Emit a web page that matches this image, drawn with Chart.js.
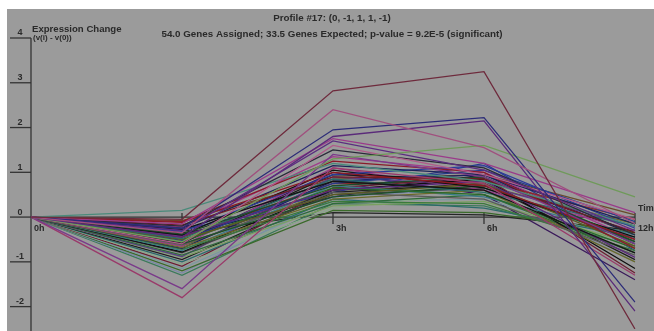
<!DOCTYPE html>
<html>
<head>
<meta charset="utf-8">
<script src="https://cdn.jsdelivr.net/npm/chart.js@4"></script>
<style>
  html, body { margin: 0; padding: 0; background: #ffffff; width: 654px; height: 331px; overflow: hidden; }
  #wrap { position: absolute; left: 7px; top: 9px; width: 647px; height: 322px; }
</style>
</head>
<body>
<div id="wrap"><canvas id="c" width="647" height="322"></canvas></div>
<script>
// Time points of the profile
const timeLabels = ['0h', '1h', '3h', '6h', '12h'];
const yTickValues = [4, 3, 2, 1, 0, -1, -2];

const titleLine1 = 'Profile #17: (0, -1, 1, 1, -1)';
const titleLine2 = '54.0 Genes Assigned; 33.5 Genes Expected; p-value = 9.2E-5 (significant)';

// Expression change of each assigned gene, one array per time point (gene i = index i)
const t0h = [0,0,0,0,0,0,0,0,0,0, 0,0,0,0,0,0,0,0,0,0, 0,0,0,0,0,0,0,0,0,0, 0,0,0,0,0,0,0,0,0,0, 0,0,0,0,0,0,0,0,0,0, 0,0,0,0];
const t1h = [-0.05,-0.35,-0.25,-0.45,-0.55,-0.15,-0.30,-0.60,-0.20,-1.60,
             -1.80, 0.15,-0.10,-0.12,-0.18,-0.25,-0.28,-0.32,-0.38,-0.40,
             -0.42,-0.48,-0.50,-0.52,-0.55,-0.58,-0.60,-0.62,-0.65,-0.68,
             -0.70,-0.72,-0.75,-0.78,-0.80,-0.85,-0.88,-0.90,-0.95,-1.00,
             -1.05,-1.10,-1.15,-1.20,-1.25,-1.30,-0.35,-0.45,-0.22,-0.30,
             -0.08,-0.55,-0.65,-0.40];
const t3h = [2.82, 2.40, 1.95, 1.80, 1.30, 1.75, 1.70, 1.60, 1.50, 1.40,
             1.10, 1.20, 1.25, 1.00, 0.90, 1.15, 0.80, 0.95, 0.70, 1.05,
             0.60, 0.85, 0.50, 0.75, 0.65, 0.95, 0.45, 0.55, 1.10, 0.40,
             0.80, 0.35, 0.70, 0.60, 0.50, 0.30, 0.90, 0.25, 0.55, 0.40,
             0.20, 0.65, 0.35, 0.15, 0.45, 0.30, 0.10, 0.75, 1.35, 0.55,
             0.85, 1.00, 0.60, 0.45];
const t6h = [3.25, 1.55, 2.22, 2.15, 1.60, 1.20, 1.05, 0.95, 1.10, 0.90,
             0.75, 0.80, 1.00, 0.70, 0.85, 0.95, 0.60, 1.15, 0.90, 0.65,
             0.80, 0.55, 0.75, 1.05, 0.50, 0.85, 0.70, 0.40, 0.60, 0.60,
             0.95, 0.30, 0.45, 0.85, 0.65, 0.50, 0.70, 0.35, 0.75, 0.20,
             0.55, 0.90, 0.40, 0.10, 0.65, 0.25, 0.05, 0.80, 1.00, 1.20,
             0.95, 0.50, 0.70, 0.95];
const t12h = [-2.50,-0.15,-1.90,-2.10, 0.45, 0.10,-0.30,-0.05,-0.40,-0.60,
              -1.30,-0.20,-0.70,-0.50,-0.35,-0.15,-0.80,-0.25,-0.55,-0.45,
              -0.90,-0.20,-0.65,-0.10,-0.70,-0.35,-0.55,-0.85,-0.30,-1.00,
              -0.60,-0.75,-0.40,-1.15,-0.50,-0.80,-0.20,-0.60,-0.95,-0.45,
              -0.70,-1.25,-0.55,-0.35,-1.00,-0.65,-0.30,-0.05,-0.50,-0.75,
               0.05,-1.40,-0.15,-0.40];

// Line colours, one per gene
const lineColors = [
  '#6e2a3c','#a0507e','#2c2c78','#5a2a7a','#6f9a5a','#9a3a8a','#5c2c80','#b05a8a','#2a2a3a','#7a3a8a',
  '#9a3a6a','#4a8a7a','#8a1c2a','#8c1a22','#701c24','#1c2458','#151515','#2a3a9a','#1f4a2a','#121212',
  '#5a2a7a','#2a6a6a','#5a5a22','#283c8c','#2a6a2a','#1a1a1a','#1e5028','#5a5a5a','#9a3a8a','#6a6a2a',
  '#1a2060','#3a7a3a','#3a7a8a','#101010','#444444','#2f6a3a','#5a3a8a','#7aa060','#202020','#2a6a6a',
  '#8aa88a','#6a1e30','#7a9aa0','#3a6a2a','#7a8aa8','#3a7a5a','#252525','#8a2a2a','#a03a8a','#2a3a8a',
  '#6a4a2a','#3a1a5a','#6a6a2a','#1a1a4a'
];

const datasets = t1h.map((_, i) => ({
  data: [t0h[i], t1h[i], t3h[i], t6h[i], t12h[i]],
  borderColor: lineColors[i],
  borderWidth: 1.3,
  pointRadius: 0,
  tension: 0,
  fill: false
}));

const INK = '#2a2a2a';
const FONT = '"Liberation Sans", Arial, sans-serif';

const stemPlugin = {
  id: 'stemAxes',
  beforeDraw(chart) {
    const ctx = chart.ctx;
    ctx.save();
    ctx.fillStyle = '#9b9b9b';
    ctx.fillRect(0, 0, chart.width, chart.height);
    ctx.restore();
  },
  beforeDatasetsDraw(chart) {
    const { ctx, scales: { x, y } } = chart;
    const x0 = x.getPixelForValue(0);
    const xEnd = x.getPixelForValue(timeLabels.length - 1);
    const y0 = y.getPixelForValue(0);
    ctx.save();
    ctx.strokeStyle = '#333333';
    ctx.lineWidth = 1.3;
    // vertical axis
    ctx.beginPath();
    ctx.moveTo(x0, y.getPixelForValue(yTickValues[0]));
    ctx.lineTo(x0, chart.height);
    ctx.stroke();
    // y ticks and labels sitting above each tick
    ctx.fillStyle = INK;
    ctx.font = 'bold 9px ' + FONT;
    ctx.textAlign = 'center';
    ctx.textBaseline = 'middle';
    yTickValues.forEach(v => {
      const py = y.getPixelForValue(v);
      ctx.beginPath();
      ctx.moveTo(x0 - 21, py);
      ctx.lineTo(x0, py);
      ctx.stroke();
      ctx.fillText(String(v), x0 - 11, py - 5);
    });
    // horizontal axis at zero
    ctx.beginPath();
    ctx.moveTo(x0, y0);
    ctx.lineTo(xEnd, y0);
    ctx.stroke();
    // time ticks and labels
    ctx.textAlign = 'left';
    timeLabels.forEach((lab, i) => {
      const px = x.getPixelForValue(i);
      if (i > 0) {
        ctx.beginPath();
        ctx.moveTo(px, y0 - 4);
        ctx.lineTo(px, y0 + 7);
        ctx.stroke();
      }
      ctx.fillText(lab, px + 3, y0 + 11);
    });
    ctx.fillText('Time', xEnd + 3, y0 - 9);
    ctx.restore();
  },
  afterDraw(chart) {
    const ctx = chart.ctx;
    ctx.save();
    ctx.fillStyle = INK;
    ctx.textBaseline = 'middle';
    ctx.textAlign = 'center';
    ctx.font = 'bold 9.8px ' + FONT;
    ctx.fillText(titleLine1, 325, 9);
    ctx.fillText(titleLine2, 325, 25);
    ctx.textAlign = 'left';
    ctx.font = 'bold 9.6px ' + FONT;
    ctx.fillText('Expression Change', 25, 20);
    ctx.font = 'bold 8px ' + FONT;
    ctx.fillText('(v(i) - v(0))', 26, 29);
    ctx.restore();
  }
};

new Chart(document.getElementById('c'), {
  type: 'line',
  data: { labels: timeLabels, datasets },
  options: {
    responsive: false,
    animation: false,
    layout: { padding: { left: 24, right: 19, top: 29, bottom: 2 } },
    plugins: { legend: { display: false }, tooltip: { enabled: false }, title: { display: false } },
    scales: {
      x: { type: 'category', offset: false, display: false },
      y: { type: 'linear', min: -2.5, max: 4, display: false }
    }
  },
  plugins: [stemPlugin]
});
</script>
</body>
</html>
